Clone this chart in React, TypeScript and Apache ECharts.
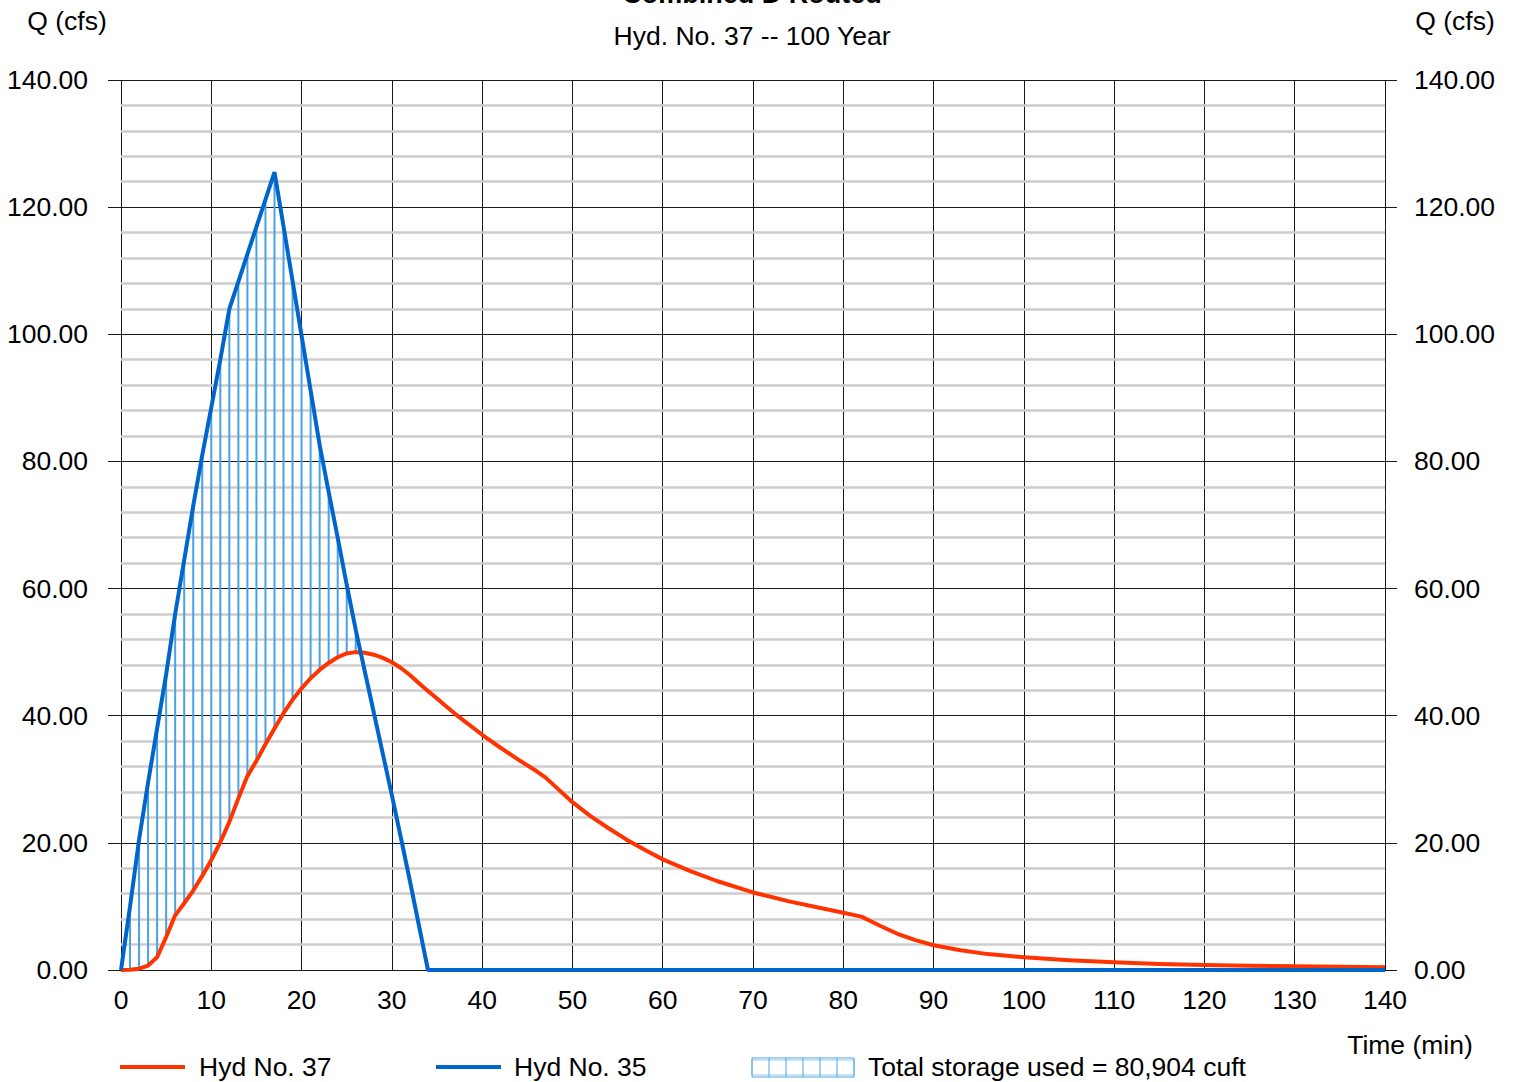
import React, { useEffect, useRef } from "react";
import * as echarts from "echarts";

// Hyd No. 35 (inflow) — time (min) and flow (cfs)
const hyd35Time = [0, 1, 2, 3, 4, 5, 6, 7, 8, 9, 10, 11, 12, 13, 14, 15, 16, 17, 18, 19, 20, 21, 22, 23, 24, 25, 26, 27, 28, 29, 30, 31, 32, 33, 34, 140];
const hyd35Flow = [0, 10, 20.5, 29.5, 38, 46.5, 56, 64.5, 73, 81, 88.5, 96, 104, 108.3, 112.6, 116.9, 121.2, 125.5, 117, 108.4, 99.8, 91.2, 82.6, 75.2, 68, 60.6, 53.5, 47, 40.5, 34, 27.5, 20.8, 14, 7, 0, 0];

// Hyd No. 37 (routed outflow)
const hyd37Time = [0, 1, 2, 3, 4, 5, 6, 7, 8, 9, 10, 11, 12, 13, 14, 15, 16, 17, 18, 19, 20, 21, 22, 23, 24, 25, 26, 27, 28, 29, 30, 31, 32, 33, 34, 35, 36, 37, 38, 39, 40, 42, 44, 46, 47, 48, 50, 52, 54, 56, 58, 60, 63, 66, 70, 74, 78, 80, 82, 83, 84, 86, 88, 90, 93, 96, 100, 105, 110, 115, 120, 125, 130, 135, 140];
const hyd37Flow = [0, 0.05, 0.2, 0.7, 2.0, 5.2, 8.6, 10.5, 12.5, 14.8, 17.3, 20.1, 23.3, 27.0, 30.5, 32.9, 35.5, 38.0, 40.4, 42.5, 44.3, 45.9, 47.2, 48.3, 49.2, 49.8, 50.0, 49.9, 49.6, 49.1, 48.4, 47.5, 46.4, 45.1, 43.9, 42.7, 41.5, 40.3, 39.2, 38.1, 37.0, 35.0, 33.1, 31.3, 30.3, 29.0, 26.4, 24.2, 22.3, 20.5, 18.9, 17.4, 15.6, 14.0, 12.2, 10.8, 9.6, 9.0, 8.4, 7.7, 7.0, 5.7, 4.7, 3.9, 3.1, 2.5, 2.0, 1.55, 1.2, 0.95, 0.8, 0.68, 0.58, 0.5, 0.42];

const xTicks = { min: 0, max: 140, interval: 10 };
const yTicks = { min: 0, max: 140, interval: 20 };

const titleText = "Combined D Routed";
const subtitleText = "Hyd. No. 37 -- 100 Year";
const yAxisName = "Q (cfs)";
const xAxisName = "Time (min)";
const legendRed = "Hyd No. 37";
const legendBlue = "Hyd No. 35";
const legendStorage = "Total storage used = 80,904 cuft";

const RED = "#ff3300";
const BLUE = "#0066cc";
const HATCH = "#4aa2e6";
const FONT = "'Liberation Sans', Arial, sans-serif";
const FS = 26.5;

export default function App() {
  const ref = useRef<HTMLDivElement>(null);

  useEffect(() => {
    if (!ref.current) return;
    const chart = echarts.init(ref.current, undefined, { renderer: "svg" });

    const redPairs = hyd37Time.map((t, i) => [t, hyd37Flow[i]]);
    const bluePairs = hyd35Time.map((t, i) => [t, hyd35Flow[i]]);

    // storage hatch: at each minute where inflow exceeds outflow
    const hatch: number[][] = [];
    hyd35Time.forEach((t, i) => {
      const j = hyd37Time.indexOf(t);
      if (t > 0 && j >= 0 && hyd35Flow[i] > hyd37Flow[j]) {
        hatch.push([t, hyd37Flow[j], hyd35Flow[i]]);
      }
    });

    const txt = (x: number, y: number, text: string, align: string, opts: any = {}) => ({
      type: "text",
      x,
      y,
      silent: true,
      style: {
        text,
        fill: "#000",
        font: opts.font || `${FS}px ${FONT}`,
        textAlign: align,
        textVerticalAlign: "middle",
      },
    });

    const hatchBoxLines: any[] = [];
    for (let k = 1; k < 6; k++) {
      const xx = 752 + k * 17;
      hatchBoxLines.push({
        type: "line",
        shape: { x1: xx, y1: 1058, x2: xx, y2: 1077 },
        style: { stroke: HATCH, lineWidth: 1 },
      });
    }

    const yLabel = (v: number) => v.toFixed(2);

    chart.setOption({
      animation: false,
      backgroundColor: "#fff",
      textStyle: { fontFamily: FONT },
      grid: { left: 121, right: 130, top: 80, bottom: 112, containLabel: false },
      xAxis: {
        type: "value",
        min: xTicks.min,
        max: xTicks.max,
        interval: xTicks.interval,
        axisLine: { show: false },
        axisTick: { show: false },
        axisLabel: { color: "#000", fontSize: FS, margin: 16, fontFamily: FONT },
        splitLine: { show: true, lineStyle: { color: "#1a1a1a", width: 1 } },
      },
      yAxis: [
        {
          type: "value",
          position: "left",
          min: yTicks.min,
          max: yTicks.max,
          interval: yTicks.interval,
          axisLine: { show: false },
          axisTick: { show: true, length: 13, lineStyle: { color: "#1a1a1a", width: 1 } },
          axisLabel: { color: "#000", fontSize: FS, margin: 33, formatter: yLabel, fontFamily: FONT },
          minorTick: { show: false, splitNumber: 5 },
          minorSplitLine: { show: true, lineStyle: { color: "#cdcdcd", width: 2.6 } },
          splitLine: { show: true, lineStyle: { color: "#1a1a1a", width: 1 } },
          z: 1,
        },
        {
          type: "value",
          position: "right",
          min: yTicks.min,
          max: yTicks.max,
          interval: yTicks.interval,
          axisLine: { show: false },
          axisTick: { show: true, length: 12, lineStyle: { color: "#1a1a1a", width: 1 } },
          axisLabel: { color: "#000", fontSize: FS, margin: 29, formatter: yLabel, fontFamily: FONT },
          splitLine: { show: false },
        },
      ],
      series: [
        {
          type: "custom",
          name: "storage",
          data: hatch,
          encode: { x: 0, y: [1, 2] },
          z: 2,
          renderItem: (params: any, api: any) => {
            const p1 = api.coord([api.value(0), api.value(1)]);
            const p2 = api.coord([api.value(0), api.value(2)]);
            return {
              type: "line",
              shape: { x1: p1[0], y1: p1[1], x2: p2[0], y2: p2[1] },
              style: { stroke: HATCH, lineWidth: 2 },
            };
          },
        },
        {
          type: "line",
          name: legendRed,
          data: redPairs,
          showSymbol: false,
          symbol: "none",
          lineStyle: { color: RED, width: 4, join: "round" },
          z: 3,
        },
        {
          type: "line",
          name: legendBlue,
          data: bluePairs,
          showSymbol: false,
          symbol: "none",
          lineStyle: { color: BLUE, width: 4 },
          z: 4,
        },
      ],
      graphic: [
        txt(752, -6, titleText, "center", { font: `bold 27px ${FONT}` }),
        txt(752, 36, subtitleText, "center"),
        txt(67, 21, yAxisName, "center"),
        txt(1455, 21, yAxisName, "center"),
        txt(1410, 1045, xAxisName, "center"),
        {
          type: "line",
          shape: { x1: 120, y1: 1067, x2: 185, y2: 1067 },
          style: { stroke: RED, lineWidth: 4 },
        },
        txt(199, 1067, legendRed, "left"),
        {
          type: "line",
          shape: { x1: 436, y1: 1067, x2: 501, y2: 1067 },
          style: { stroke: BLUE, lineWidth: 4 },
        },
        txt(514, 1067, legendBlue, "left"),
        {
          type: "rect",
          shape: { x: 752, y: 1058, width: 102, height: 19 },
          style: { fill: "none", stroke: HATCH, lineWidth: 1 },
        },
        {
          type: "rect",
          shape: { x: 752, y: 1060, width: 102, height: 15 },
          style: { fill: "none", stroke: HATCH, lineWidth: 1, opacity: 0.6 },
        },
        ...hatchBoxLines,
        txt(868, 1067, legendStorage, "left"),
      ],
    });

    return () => chart.dispose();
  }, []);

  return <div ref={ref} style={{ width: 1515, height: 1082, position: "absolute", left: 0, top: 0 }} />;
}
